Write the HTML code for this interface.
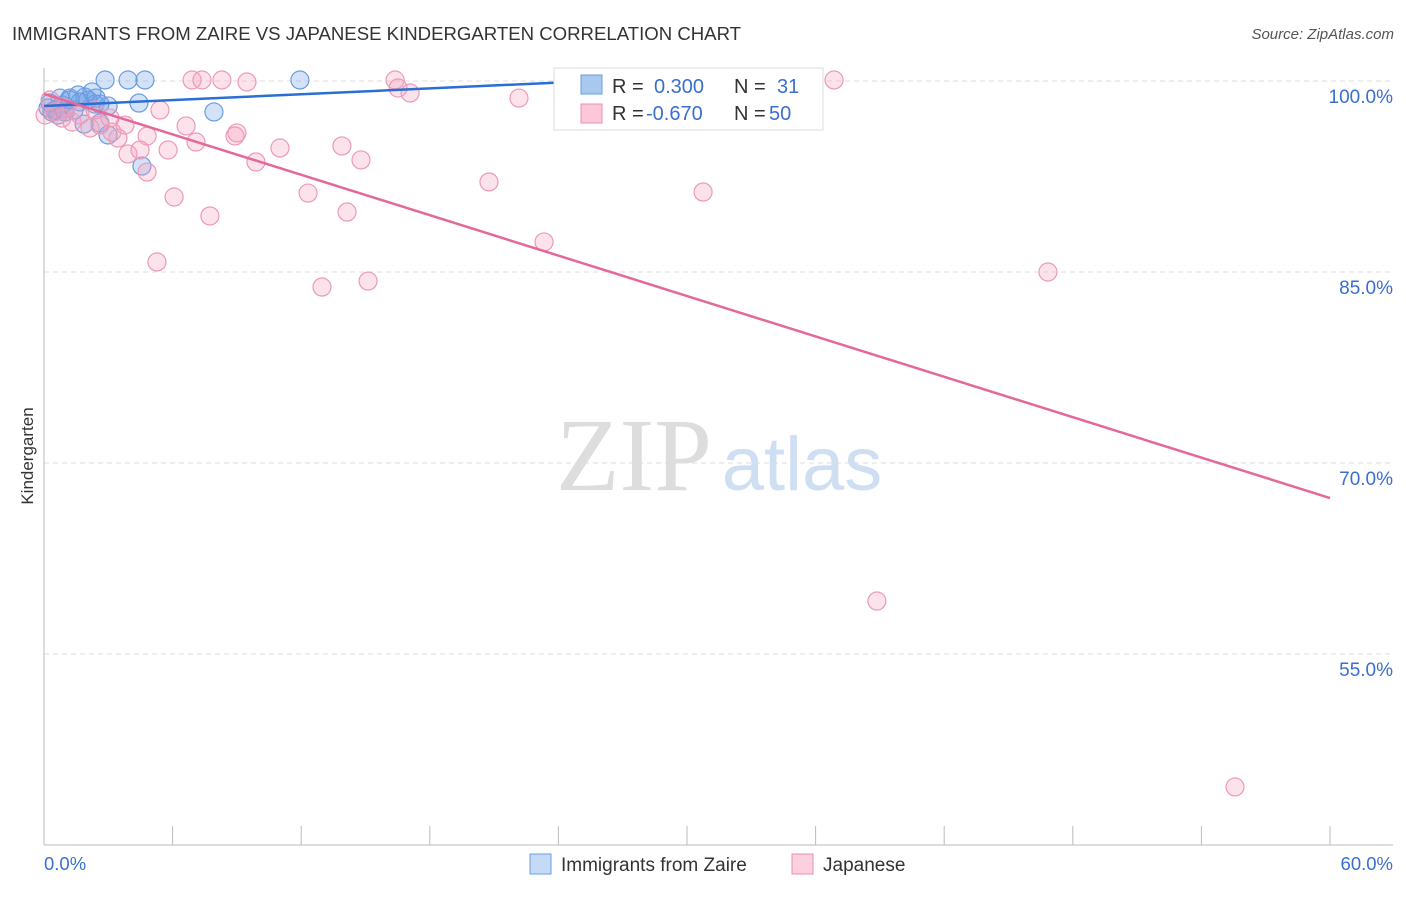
<!DOCTYPE html>
<html><head><meta charset="utf-8"><style>
body{margin:0;background:#fff;font-family:"Liberation Sans",sans-serif;}
svg text{font-family:"Liberation Sans",sans-serif;}
</style></head><body>
<svg id="chart" width="1406" height="892" xmlns="http://www.w3.org/2000/svg">
<text x="12" y="40" font-size="18.6" fill="#333">IMMIGRANTS FROM ZAIRE VS JAPANESE KINDERGARTEN CORRELATION CHART</text>
<text x="1394" y="39" font-size="15" fill="#555" font-style="italic" text-anchor="end">Source: ZipAtlas.com</text>
<text x="33" y="456" font-size="17" fill="#333" text-anchor="middle" transform="rotate(-90 33 456)">Kindergarten</text>
<g><text x="634" y="490" font-size="104" fill="#ddd" style="font-family:'Liberation Serif',serif" text-anchor="middle">ZIP</text><text x="802" y="490" font-size="76" fill="#cfdff3" text-anchor="middle">atlas</text></g>
<g id="grid"></g><g id="axes"></g><g id="pts"></g><g id="trend"></g>
<g>
<rect x="554" y="68" width="269" height="62" fill="#fff" stroke="#ddd"/>
<rect x="581" y="75" width="21" height="19" fill="#a9c8f0" stroke="#6a9de0"/>
<rect x="581" y="104" width="21" height="19" fill="#fcc8d8" stroke="#e890b0"/>
<text x="612" y="93" font-size="20" fill="#333">R =</text><text x="654" y="93" font-size="20" fill="#3a6fd0">0.300</text>
<text x="734" y="93" font-size="20" fill="#333">N =</text><text x="777" y="93" font-size="20" fill="#3a6fd0">31</text>
<text x="612" y="120" font-size="20" fill="#333">R =</text><text x="646" y="120" font-size="20" fill="#3a6fd0">-0.670</text>
<text x="734" y="120" font-size="20" fill="#333">N =</text><text x="769" y="120" font-size="20" fill="#3a6fd0">50</text>
</g>
<g>
<rect x="530" y="854" width="21" height="20" fill="#c5daf6" stroke="#6a9de0"/><text x="561" y="871" font-size="19" fill="#333">Immigrants from Zaire</text>
<rect x="792" y="854" width="21" height="20" fill="#fcd0de" stroke="#e890b0"/><text x="823" y="871" font-size="19" fill="#333">Japanese</text>
</g>
<text x="44" y="870" font-size="18.5" fill="#3a6fd0">0.0%</text>
<text x="1393" y="870" font-size="18.5" fill="#3a6fd0" text-anchor="end">60.0%</text>
</svg>
<script>
const yTicks=[100,85,70,55];
const yTickLabels=["100.0%","85.0%","70.0%","55.0%"];
const blueX=[2.85,3.92,4.71,11.94,25.61,4.43,7.93,4.57,0.28,0.51,0.84,1.21,1.59,1.91,2.24,2.43,2.61,2.99,2.05,1.40,0.98,0.65,0.19,1.87,2.61,2.99,2.38,1.68,1.21,0.75,0.37];
const blueY=[100.08,100.08,100.08,100.08,100.08,98.27,97.57,93.32,98.27,97.72,98.12,98.66,98.90,98.74,99.14,98.66,98.19,98.04,98.51,97.72,97.57,97.33,97.88,96.62,96.70,95.76,98.19,98.35,98.51,98.66,97.57];
const pinkX=[6.91,7.37,8.30,9.47,16.38,36.86,16.52,17.08,22.16,5.41,6.63,9.00,8.91,4.81,3.45,3.92,5.79,7.09,9.89,11.01,13.90,14.79,4.81,6.07,7.74,12.32,14.14,20.76,30.75,23.33,5.27,12.97,15.12,46.84,38.86,55.57,0.28,0.51,0.84,1.31,1.68,2.15,2.61,3.17,4.48,0.05,0.98,2.38,3.08,3.78];
const pinkY=[100.08,100.08,100.08,99.92,100.08,100.08,99.45,99.06,98.66,97.72,96.47,95.92,95.68,95.68,95.52,94.27,94.58,95.21,93.64,94.74,94.90,93.80,92.85,90.89,89.40,91.20,89.71,92.07,91.28,87.36,85.79,83.82,84.29,85.00,59.16,44.56,98.51,97.57,97.09,96.78,97.33,96.31,96.54,95.99,94.58,97.33,97.88,97.72,97.09,96.54];
const blueTrendX=[0,25.6];
const blueTrendY=[98.04,100.0];
const pinkTrendX=[0,60];
const pinkTrendY=[98.98,67.25];
const NS="http://www.w3.org/2000/svg";
const sx=v=>44+v/60*1286;
const sy=v=>81+(100-v)/15*191;
function mk(tag,attrs,parent){const e=document.createElementNS(NS,tag);for(const k in attrs)e.setAttribute(k,attrs[k]);document.getElementById(parent).appendChild(e);return e;}
yTicks.forEach((t,i)=>{
  const l=mk('line',{x1:44,x2:1393,y1:sy(t),y2:sy(t),stroke:'#ddd','stroke-dasharray':'5,4'},'grid');
  
  
  const tx=mk('text',{x:1393,y:sy(t)+22,'font-size':19,fill:'#3a6fd0','text-anchor':'end'},'grid');
  tx.textContent=yTickLabels[i];
  
  
});
const ax=mk('line',{x1:44,x2:44,y1:68,y2:845,stroke:'#bbb'},'axes');


const bx=mk('line',{x1:44,x2:1393,y1:845,y2:845,stroke:'#bbb'},'axes');


for(let i=0;i<=10;i++){
  const t=mk('line',{x1:sx(i*6),x2:sx(i*6),y1:826,y2:845,stroke:'#bbb'},'axes');
  
  
}
blueX.forEach((x,i)=>{
  const c=mk('circle',{cx:sx(x),cy:sy(blueY[i]),r:9,fill:'rgba(110,160,230,0.3)',stroke:'#6a9de0','stroke-width':1.2},'pts');
  
  
});
pinkX.forEach((x,i)=>{
  const c=mk('circle',{cx:sx(x),cy:sy(pinkY[i]),r:9,fill:'rgba(245,160,190,0.3)',stroke:'#eb9ab8','stroke-width':1.2},'pts');
  
  
});
const bt=mk('line',{x1:sx(blueTrendX[0]),y1:sy(blueTrendY[0]),x2:sx(blueTrendX[1]),y2:sy(blueTrendY[1]),stroke:'#2a6fd6','stroke-width':2.5},'trend');


const pt=mk('line',{x1:sx(pinkTrendX[0]),y1:sy(pinkTrendY[0]),x2:sx(pinkTrendX[1]),y2:sy(pinkTrendY[1]),stroke:'#e4689a','stroke-width':2.5},'trend');


</script>
</body></html>
